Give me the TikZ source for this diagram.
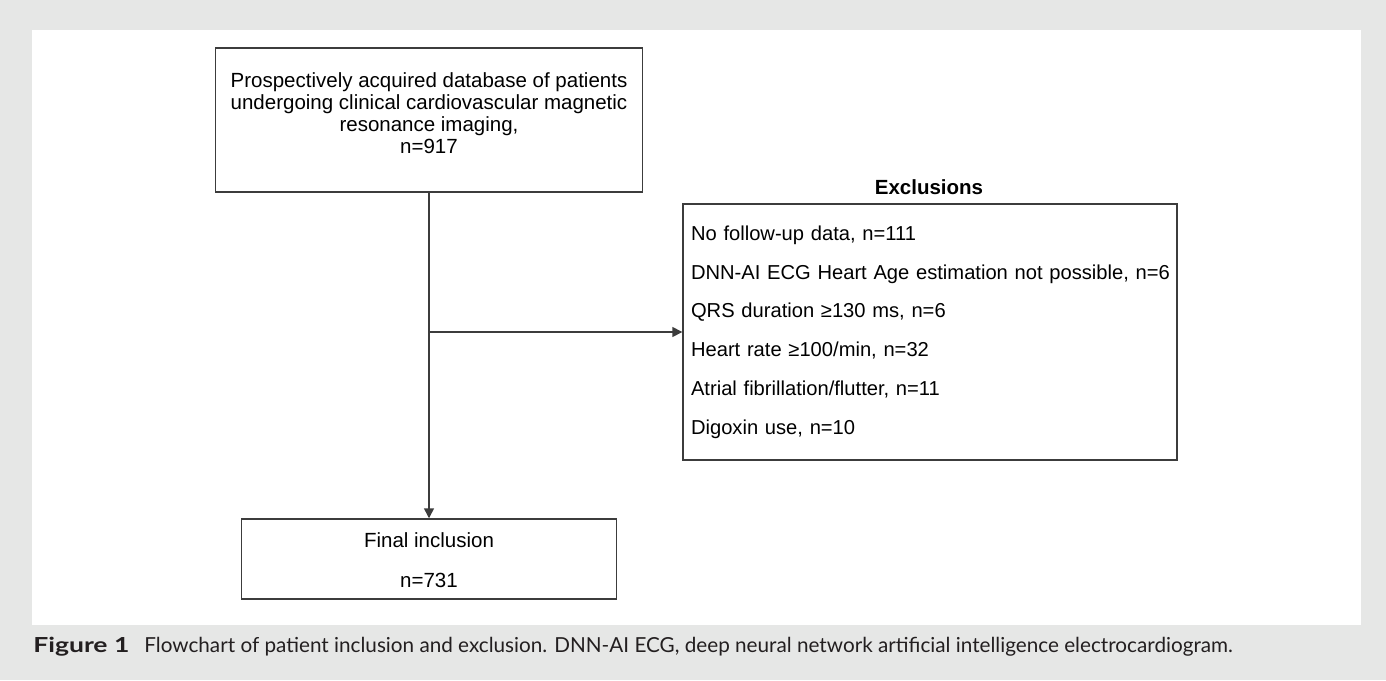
\documentclass[tikz,border=0pt]{standalone}
\usepackage{fontspec}
\setmainfont{Liberation Sans}
\newfontfamily\capfont{Lato}
\usetikzlibrary{arrows.meta}
\definecolor{panelgray}{RGB}{230,231,230}
\definecolor{boxline}{RGB}{60,60,60}
\definecolor{captext}{RGB}{35,31,32}

\begin{document}
\begin{tikzpicture}[x=0.02cm,y=-0.02cm,
  box/.style={draw=boxline, line width=0.85pt, inner sep=0pt},
  flow/.style={draw=boxline, line width=0.85pt, -{Triangle[length=0.2cm,width=0.2cm]}},
  every node/.style={font=\fontsize{11.67}{12.52}\selectfont}]

% page and panel
\fill[panelgray] (0,0) rectangle (1386,680);
\fill[white] (32,30) rectangle (1361,625);

\node[box, minimum width=8.54cm, minimum height=2.88cm] (database) at (429,120) {
\begin{tabular}{c}Prospectively acquired database of patients\\ undergoing clinical cardiovascular magnetic\\ resonance imaging,\\ n=917\\[0.16cm]\end{tabular}
};

\node[box, minimum width=7.5cm, minimum height=1.6cm] (final) at (429,559) {
\fontsize{11.67}{22.76}\selectfont
\begin{tabular}{c}Final inclusion\\ n=731\end{tabular}
};

\node[font=\bfseries\fontsize{11.67}{12.52}\selectfont] (exclhead) at (929,187) {Exclusions};

\node[box, inner xsep=0.16cm, text width=9.56cm, align=left, minimum height=5.12cm,
  font=\fontsize{11.47}{22.07}\selectfont] (excluded) at (930,332) {
No follow-up data, n=111\\
\mbox{DNN-AI ECG Heart Age estimation not possible, n=6}\\
QRS duration ≥130 ms, n=6\\
Heart rate ≥100/min, n=32\\
Atrial fibrillation/flutter, n=11\\
Digoxin use, n=10
};

\coordinate (split) at (429,332);
\draw[flow] (database) to (final);
\draw[flow] (split) to (excluded.west);

\node[anchor=base west, inner sep=0pt, text=captext, font=\capfont\fontsize{11.78}{14}\selectfont] (caption) at (33,652) {
\scalebox{1.28}[1]{\textbf{Figure 1}}\hspace{0.3cm}Flowchart of patient inclusion and exclusion. DNN-AI ECG, deep neural network artificial intelligence electrocardiogram.
};

\end{tikzpicture}
\end{document}
